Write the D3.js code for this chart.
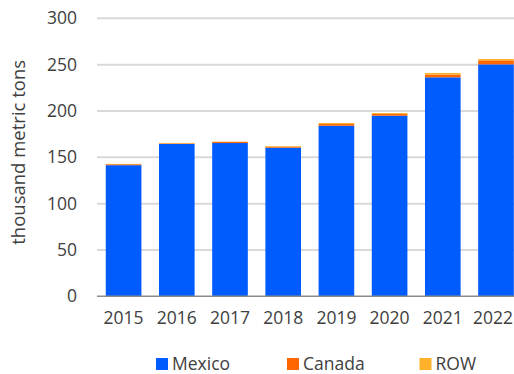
<!DOCTYPE html>
<html>
<head>
<meta charset="utf-8">
<script src="https://cdn.jsdelivr.net/npm/d3@7"></script>
<style>
  html, body { margin: 0; padding: 0; background: #fff; }
  svg { display: block; font-family: "Open Sans", "Noto Sans", sans-serif; }
</style>
</head>
<body>
<svg id="chart" width="514" height="374"></svg>
<script>
// Annual imports by source, thousand metric tons
const years = ["2015", "2016", "2017", "2018", "2019", "2020", "2021", "2022"];
const mexico = [141.5, 164.4, 165.4, 160.4, 184.1, 194.9, 236.3, 250.3];
const canada = [1.0, 0.6, 1.2, 1.0, 1.8, 1.8, 2.9, 4.3];
const row = [0.4, 0.5, 0.3, 0.8, 1.1, 1.0, 1.8, 1.5];
const seriesNames = ["Mexico", "Canada", "ROW"];
const seriesColors = ["#005cff", "#ff6600", "#ffb12b"];
const yTicks = [0, 50, 100, 150, 200, 250, 300];
const yTitle = "thousand metric tons";

const svg = d3.select("#chart");
const textColor = "#404040";
const fontSize = "17.5px";
const width = 514;

const rows = years.map((y, i) => ({ year: y, Mexico: mexico[i], Canada: canada[i], ROW: row[i] }));
const stacked = d3.stack().keys(seriesNames)(rows);

const x = d3.scaleBand().domain(years).range([97, 522.6]).paddingInner(0.33).paddingOuter(0.165);
const y = d3.scaleLinear().domain([0, 300]).range([296.3, 18.3]);

// horizontal gridlines
svg.append("g")
  .selectAll("line")
  .data(yTicks.filter(t => t > 0))
  .join("line")
  .attr("x1", 97).attr("x2", width)
  .attr("y1", d => y(d)).attr("y2", d => y(d))
  .attr("stroke", "#d9d9d9").attr("stroke-width", 2);

// stacked bars
svg.append("g")
  .selectAll("g")
  .data(stacked)
  .join("g")
  .attr("fill", (d, i) => seriesColors[i])
  .selectAll("rect")
  .data(d => d)
  .join("rect")
  .attr("x", d => x(d.data.year))
  .attr("width", x.bandwidth())
  .attr("y", d => y(d[1]))
  .attr("height", d => y(d[0]) - y(d[1]));

// baseline
svg.append("line")
  .attr("x1", 97).attr("x2", width)
  .attr("y1", y(0)).attr("y2", y(0))
  .attr("stroke", "#8c8c8c").attr("stroke-width", 1.5);

// y axis labels
const yAxis = d3.axisLeft(y).tickValues(yTicks).tickSize(0).tickPadding(0);
const gy = svg.append("g").attr("transform", "translate(77,0)").call(yAxis);
gy.select(".domain").remove();
gy.selectAll("text")
  .attr("fill", textColor)
  .style("font-size", fontSize)
  .style("font-family", "'Open Sans', sans-serif");

// x axis labels
const xAxis = d3.axisBottom(x).tickSize(0).tickPadding(0);
const gx = svg.append("g").attr("transform", `translate(0,${y(0) + 15.3})`).call(xAxis);
gx.select(".domain").remove();
gx.selectAll("text")
  .attr("fill", textColor)
  .style("font-size", fontSize)
  .style("font-family", "'Open Sans', sans-serif");
// keep the last label inside the right edge
gx.selectAll(".tick").filter(d => d === years[years.length - 1])
  .select("text")
  .attr("text-anchor", "end")
  .attr("x", d => width - 1 - (x(d) + x.bandwidth() / 2));

// y axis title
svg.append("text")
  .attr("transform", `translate(25,${(y(0) + y(300)) / 2 - 5}) rotate(-90)`)
  .attr("text-anchor", "middle")
  .attr("fill", textColor)
  .style("font-size", "18.5px")
  .text(yTitle);

// legend
const legendX = [156, 287, 419.5];
const legend = svg.append("g")
  .selectAll("g")
  .data(seriesNames)
  .join("g")
  .attr("transform", (d, i) => `translate(${legendX[i]},358)`);
legend.append("rect")
  .attr("width", 12).attr("height", 12)
  .attr("fill", (d, i) => seriesColors[i]);
legend.append("text")
  .attr("x", 16).attr("y", 6)
  .attr("dy", "0.35em")
  .attr("fill", textColor)
  .style("font-size", fontSize)
  .text(d => d);
</script>
</body>
</html>
